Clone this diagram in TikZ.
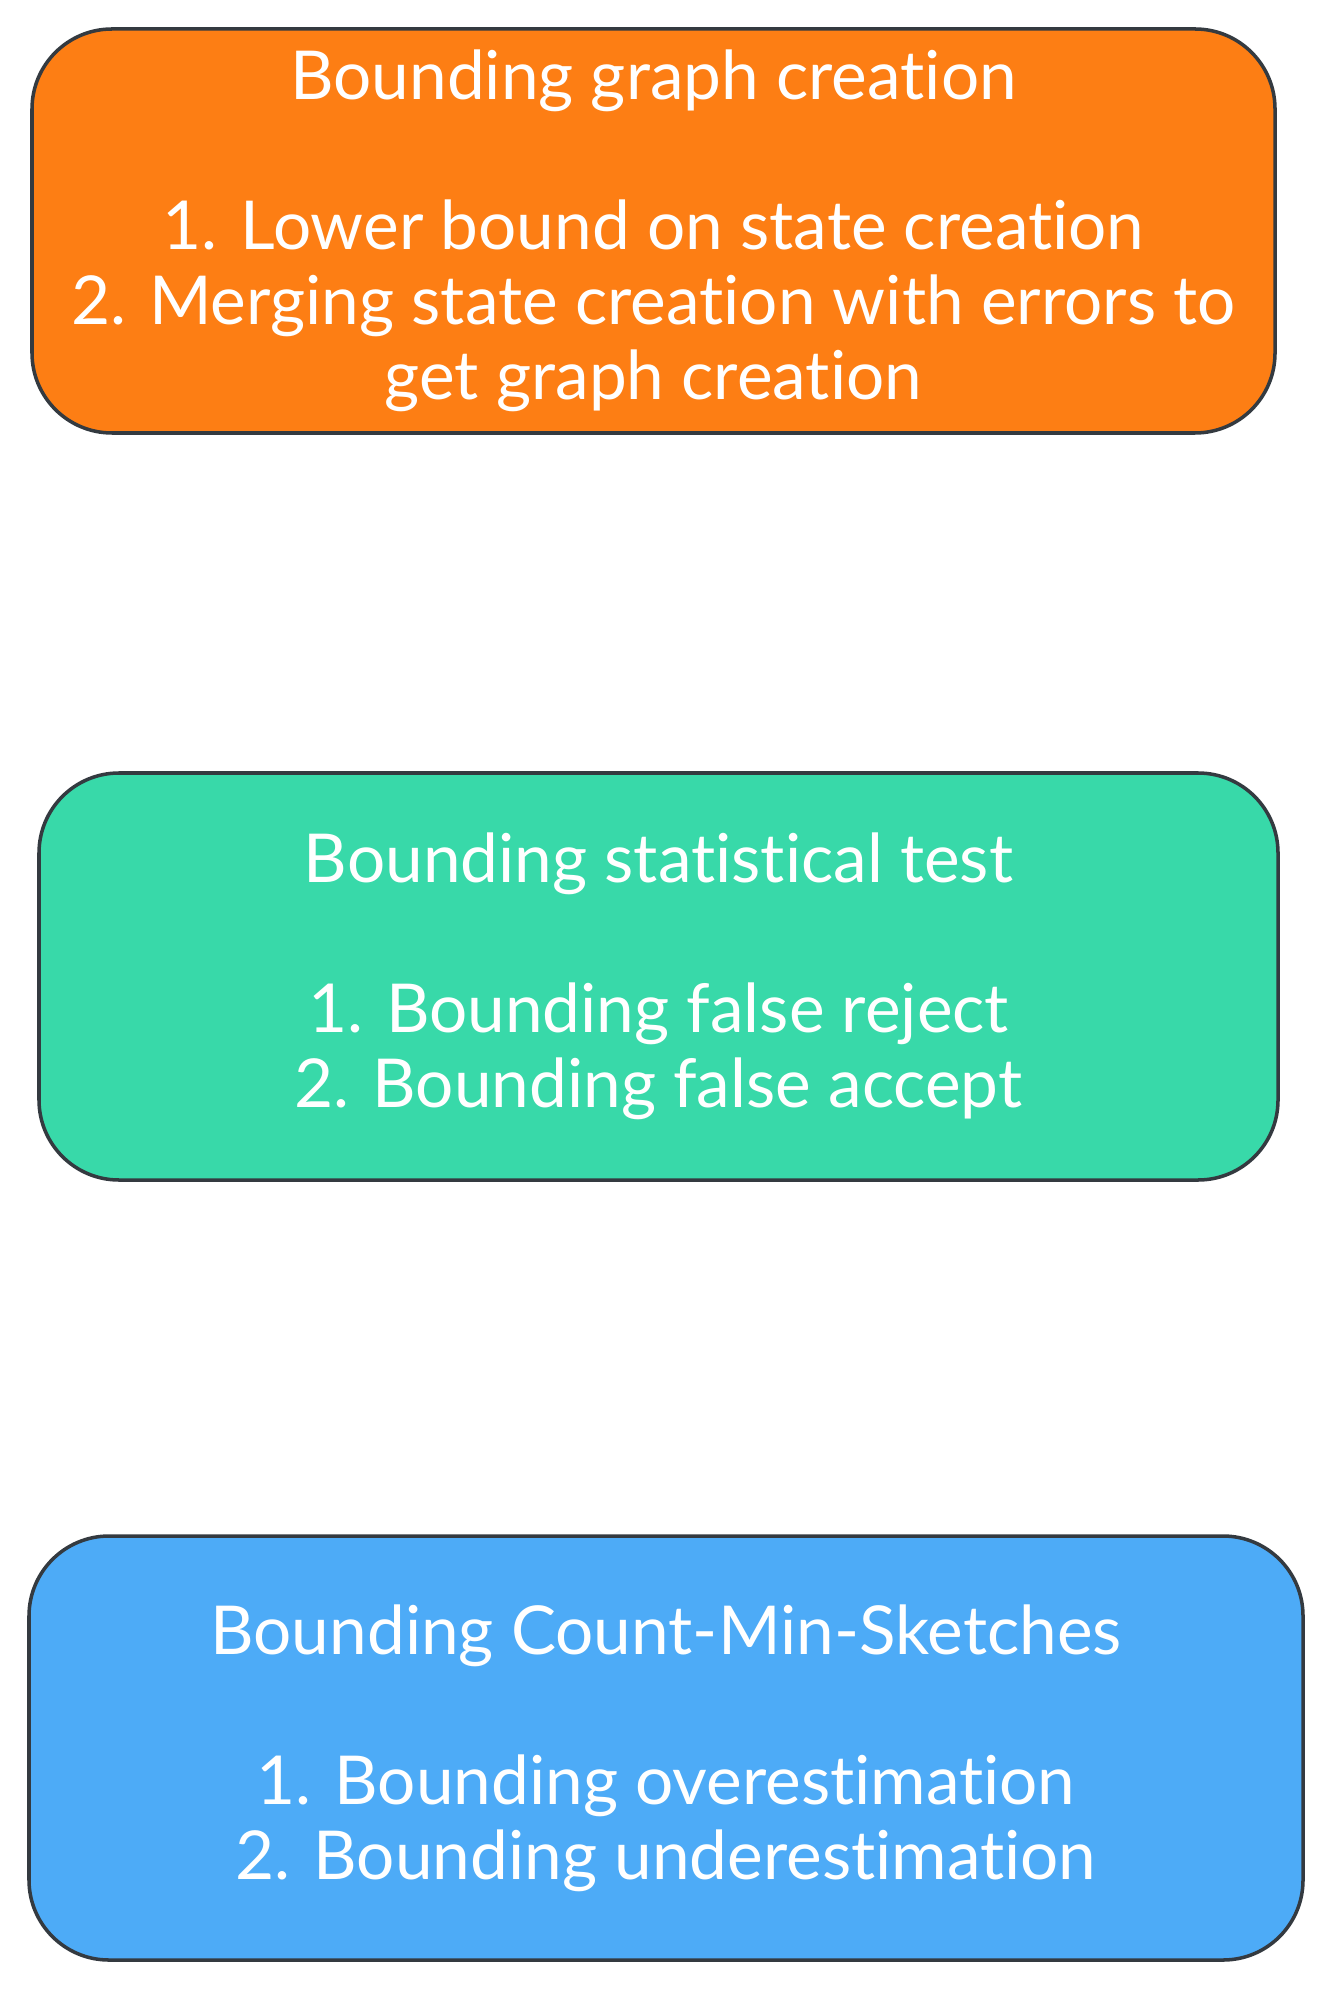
\documentclass[tikz,border=0pt]{standalone}
\usepackage{fontspec}
\setmainfont{Lato}[Ligatures={NoCommon}]
\usepackage{xcolor}
\usepackage{tikz}
\usetikzlibrary{positioning}

\definecolor{boxorange}{HTML}{FD7E14}
\definecolor{boxteal}{HTML}{38D9A9}
\definecolor{boxblue}{HTML}{4DABF7}
\definecolor{pencil}{HTML}{343A40}

\begin{document}
\begin{tikzpicture}[
    box/.style={rectangle, rounded corners=0.8cm, draw=pencil, line width=1pt, align=center, text=white, font=\fontsize{19.2}{21.3}\selectfont},
]
\useasboundingbox (0,0) rectangle (13.32,-19.90);

% Graph creation
\node[box, fill=boxorange, minimum width=12.43cm, minimum height=4.04cm] (graph) at (6.535,-2.31) {Bounding graph creation\\~\\1. Lower bound on state creation\\2. Merging state creation with errors to\\get graph creation};

% Statistical test
\node[box, fill=boxteal, minimum width=12.39cm, minimum height=4.07cm] (stattest) at (6.585,-9.765) {Bounding statistical test\\~\\1. Bounding false reject\\2. Bounding false accept};

% Count-Min-Sketches
\node[box, fill=boxblue, minimum width=12.74cm, minimum height=4.24cm] (cms) at (6.66,-17.48) {Bounding Count-Min-Sketches\\~\\1. Bounding overestimation\\2. Bounding underestimation};

\end{tikzpicture}
\end{document}
